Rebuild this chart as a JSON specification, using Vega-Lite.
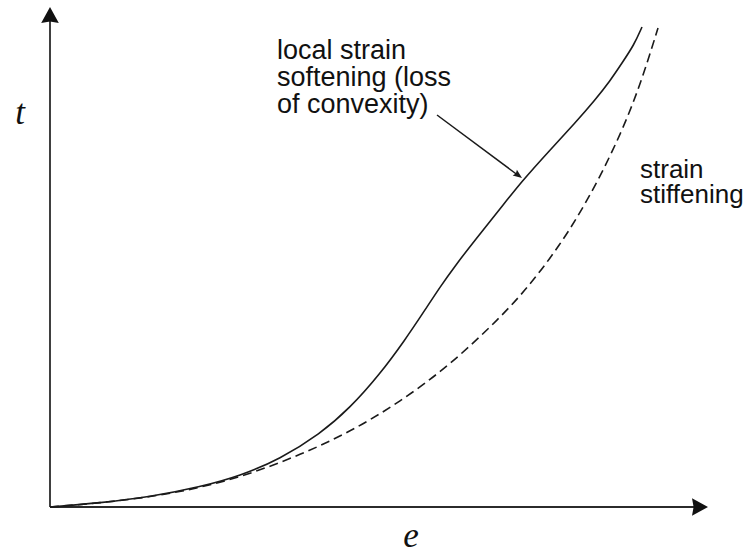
{
  "$schema": "https://vega.github.io/schema/vega-lite/v6.json",
  "width": 660,
  "height": 500,
  "autosize": {"type": "none"},
  "padding": {"left": 50, "top": 7, "right": 43, "bottom": 47},
  "background": "white",
  "config": {"view": {"stroke": null}},
  "datasets": {
    "softening": [
      {"e": 0, "t": 0}, {"e": 0.5, "t": 0.04}, {"e": 1.0, "t": 0.1}, {"e": 1.5, "t": 0.2},
      {"e": 1.9, "t": 0.31}, {"e": 2.3, "t": 0.48}, {"e": 2.7, "t": 0.73}, {"e": 3.0, "t": 0.99},
      {"e": 3.3, "t": 1.33}, {"e": 3.55, "t": 1.67}, {"e": 3.75, "t": 1.97}, {"e": 3.9, "t": 2.2},
      {"e": 4.05, "t": 2.41}, {"e": 4.25, "t": 2.67}, {"e": 4.5, "t": 2.98}, {"e": 4.72, "t": 3.26},
      {"e": 5.0, "t": 3.57}, {"e": 5.25, "t": 3.84}, {"e": 5.45, "t": 4.07}, {"e": 5.6, "t": 4.26},
      {"e": 5.72, "t": 4.44}, {"e": 5.84, "t": 4.62}, {"e": 5.92, "t": 4.8}
    ],
    "stiffening": [
      {"e": 0, "t": 0}, {"e": 0.5, "t": 0.04}, {"e": 1.0, "t": 0.1}, {"e": 1.5, "t": 0.19},
      {"e": 2.0, "t": 0.33}, {"e": 2.5, "t": 0.52}, {"e": 3.0, "t": 0.75}, {"e": 3.5, "t": 1.05},
      {"e": 4.0, "t": 1.42}, {"e": 4.5, "t": 1.89}, {"e": 4.8, "t": 2.22}, {"e": 5.1, "t": 2.62},
      {"e": 5.35, "t": 3.02}, {"e": 5.6, "t": 3.5}, {"e": 5.8, "t": 3.95}, {"e": 5.95, "t": 4.37},
      {"e": 6.08, "t": 4.79}
    ],
    "axes": [
      {"e": 0, "t": 0, "e2": 6.45, "t2": 0},
      {"e": 0, "t": 0, "e2": 0, "t2": 4.88}
    ],
    "pointer": [
      {"e": 3.87, "t": 3.92, "e2": 4.69, "t2": 3.31}
    ],
    "symbols": [
      {"e": -0.3, "t": 3.83, "label": "t"},
      {"e": 3.61, "t": -0.4, "label": "e"}
    ]
  },
  "encoding": {
    "x": {"field": "e", "type": "quantitative", "scale": {"domain": [0, 6.6], "nice": false, "zero": false}, "axis": null},
    "y": {"field": "t", "type": "quantitative", "scale": {"domain": [0, 5], "nice": false, "zero": false}, "axis": null}
  },
  "layer": [
    {
      "data": {"name": "axes"},
      "mark": {"type": "rule", "color": "#2b2b2b", "strokeWidth": 1.8},
      "encoding": {
        "x2": {"field": "e2"},
        "y2": {"field": "t2"}
      }
    },
    {
      "data": {"values": [{"e": 0, "t": 4.92}]},
      "mark": {"type": "point", "shape": "M0,-1L1.1,1L0,0.8L-1.1,1Z", "size": 256, "filled": true, "color": "#111111", "opacity": 1, "strokeWidth": 0}
    },
    {
      "data": {"values": [{"e": 6.5, "t": 0}]},
      "mark": {"type": "point", "shape": "M1,0L-1,1.1L-0.8,0L-1,-1.1Z", "size": 256, "filled": true, "color": "#111111", "opacity": 1, "strokeWidth": 0}
    },
    {
      "data": {"name": "stiffening"},
      "mark": {"type": "line", "interpolate": "basis", "color": "#1a1a1a", "strokeWidth": 1.6, "strokeDash": [9, 5]}
    },
    {
      "data": {"name": "softening"},
      "mark": {"type": "line", "interpolate": "basis", "color": "#1a1a1a", "strokeWidth": 1.6}
    },
    {
      "data": {"name": "pointer"},
      "mark": {"type": "rule", "color": "#1a1a1a", "strokeWidth": 1.5},
      "encoding": {
        "x2": {"field": "e2"},
        "y2": {"field": "t2"}
      }
    },
    {
      "data": {"values": [{"e": 4.684, "t": 3.317}]},
      "mark": {"type": "point", "shape": "M1,0L-1,0.8L-0.7,0L-1,-0.8Z", "size": 81, "angle": 36.5, "filled": true, "color": "#1a1a1a", "opacity": 1, "strokeWidth": 0}
    },
    {
      "data": {"values": [{"e": 2.27, "t": 4.48, "label": "local strain\nsoftening (loss\nof convexity)"}]},
      "mark": {"type": "text", "align": "left", "baseline": "alphabetic", "lineBreak": "\n", "lineHeight": 27, "font": "Liberation Sans", "fontSize": 27, "color": "#111111"},
      "encoding": {"text": {"field": "label", "type": "nominal"}}
    },
    {
      "data": {"values": [{"e": 5.9, "t": 3.29, "label": "strain\nstiffening"}]},
      "mark": {"type": "text", "align": "left", "baseline": "alphabetic", "lineBreak": "\n", "lineHeight": 25, "font": "Liberation Sans", "fontSize": 26, "color": "#111111"},
      "encoding": {"text": {"field": "label", "type": "nominal"}}
    },
    {
      "data": {"name": "symbols"},
      "mark": {"type": "text", "align": "center", "baseline": "alphabetic", "font": "Liberation Serif", "fontStyle": "italic", "fontSize": 35, "color": "#111111"},
      "encoding": {"text": {"field": "label", "type": "nominal"}}
    }
  ]
}
